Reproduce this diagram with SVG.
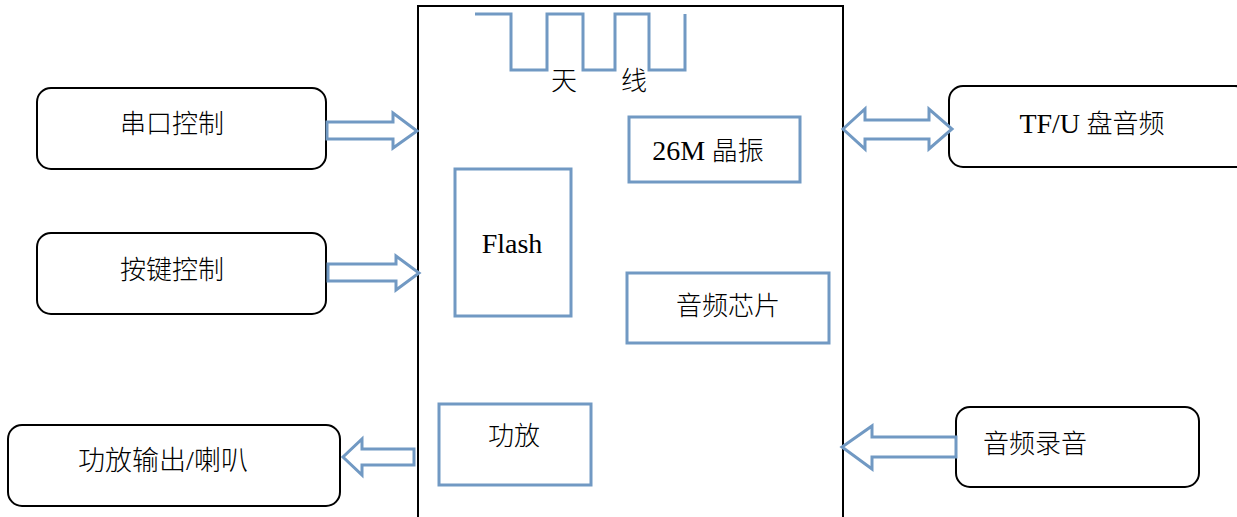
<svg xmlns="http://www.w3.org/2000/svg" width="1237" height="517" viewBox="0 0 1237 517">
<style>
.node{fill:#fff;stroke:#000;stroke-width:2}
.blk{fill:#fff;stroke:#000;stroke-width:2}
.chip{fill:#fff;stroke:#7199C3;stroke-width:3}
.arr{fill:#fff;stroke:#7199C3;stroke-width:3;stroke-linejoin:miter}
.ant{fill:none;stroke:#7199C3;stroke-width:3}
text{font-family:"Liberation Serif","Noto Sans CJK SC",serif;font-size:26px;font-weight:300;fill:#000;text-anchor:middle}
.lat{font-size:28px;font-weight:400}
</style>
<rect width="1237" height="517" fill="#fff"/>
<g id="main-board">
<rect class="blk" x="418" y="6" width="425" height="520"/>
</g>
<g id="antenna">
<polyline class="ant" points="475,14 511,14 511,70 547,70 547,14 583,14 583,70 615,70 615,14 649,14 649,70 685,70 685,14"/>
<text x="564" y="90">天</text>
<text x="634" y="90">线</text>
</g>
<g id="crystal">
<rect class="chip" x="629" y="117" width="171" height="65"/>
<text x="708" y="160"><tspan class="lat">26M</tspan> 晶振</text>
</g>
<g id="flash">
<rect class="chip" x="455" y="169" width="116" height="147"/>
<text class="lat" x="512" y="253">Flash</text>
</g>
<g id="audio-chip">
<rect class="chip" x="627" y="273" width="202" height="70"/>
<text x="728" y="315">音频芯片</text>
</g>
<g id="amp">
<rect class="chip" x="439" y="404" width="152" height="81"/>
<text x="514" y="445">功放</text>
</g>
<g id="uart">
<rect class="node" x="37" y="88" width="289" height="81" rx="14"/>
<text x="172" y="133">串口控制</text>
</g>
<g id="keys">
<rect class="node" x="37" y="233" width="289" height="81" rx="14"/>
<text x="172" y="279">按键控制</text>
</g>
<g id="speaker">
<rect class="node" x="8" y="425" width="332" height="81" rx="14"/>
<text x="163" y="470" style="font-size:27px">功放输出<tspan class="lat">/</tspan>喇叭</text>
</g>
<g id="tf-u">
<rect class="node" x="949" y="86" width="300" height="81" rx="14"/>
<text x="1092" y="133"><tspan class="lat">TF/U</tspan> 盘音频</text>
</g>
<g id="record">
<rect class="node" x="956" y="407" width="243" height="80" rx="14"/>
<text x="1035" y="453">音频录音</text>
</g>
<g id="connectors">
<polygon class="arr" points="327,122 393,122 393,113 417,131 393,148 393,139 327,139"/>
<polygon class="arr" points="328,264 396,264 396,256 419,273 396,290 396,281 328,281"/>
<polygon class="arr" points="843,129 865,109 865,120 929,120 929,109 952,129 929,149 929,139 865,139 865,149"/>
<polygon class="arr" points="956,437 872,437 872,426 842,447 872,469 872,457 956,457"/>
<polygon class="arr" points="414,449 362,449 362,439 343,457 362,475 362,465 414,465"/>
</g>
</svg>
